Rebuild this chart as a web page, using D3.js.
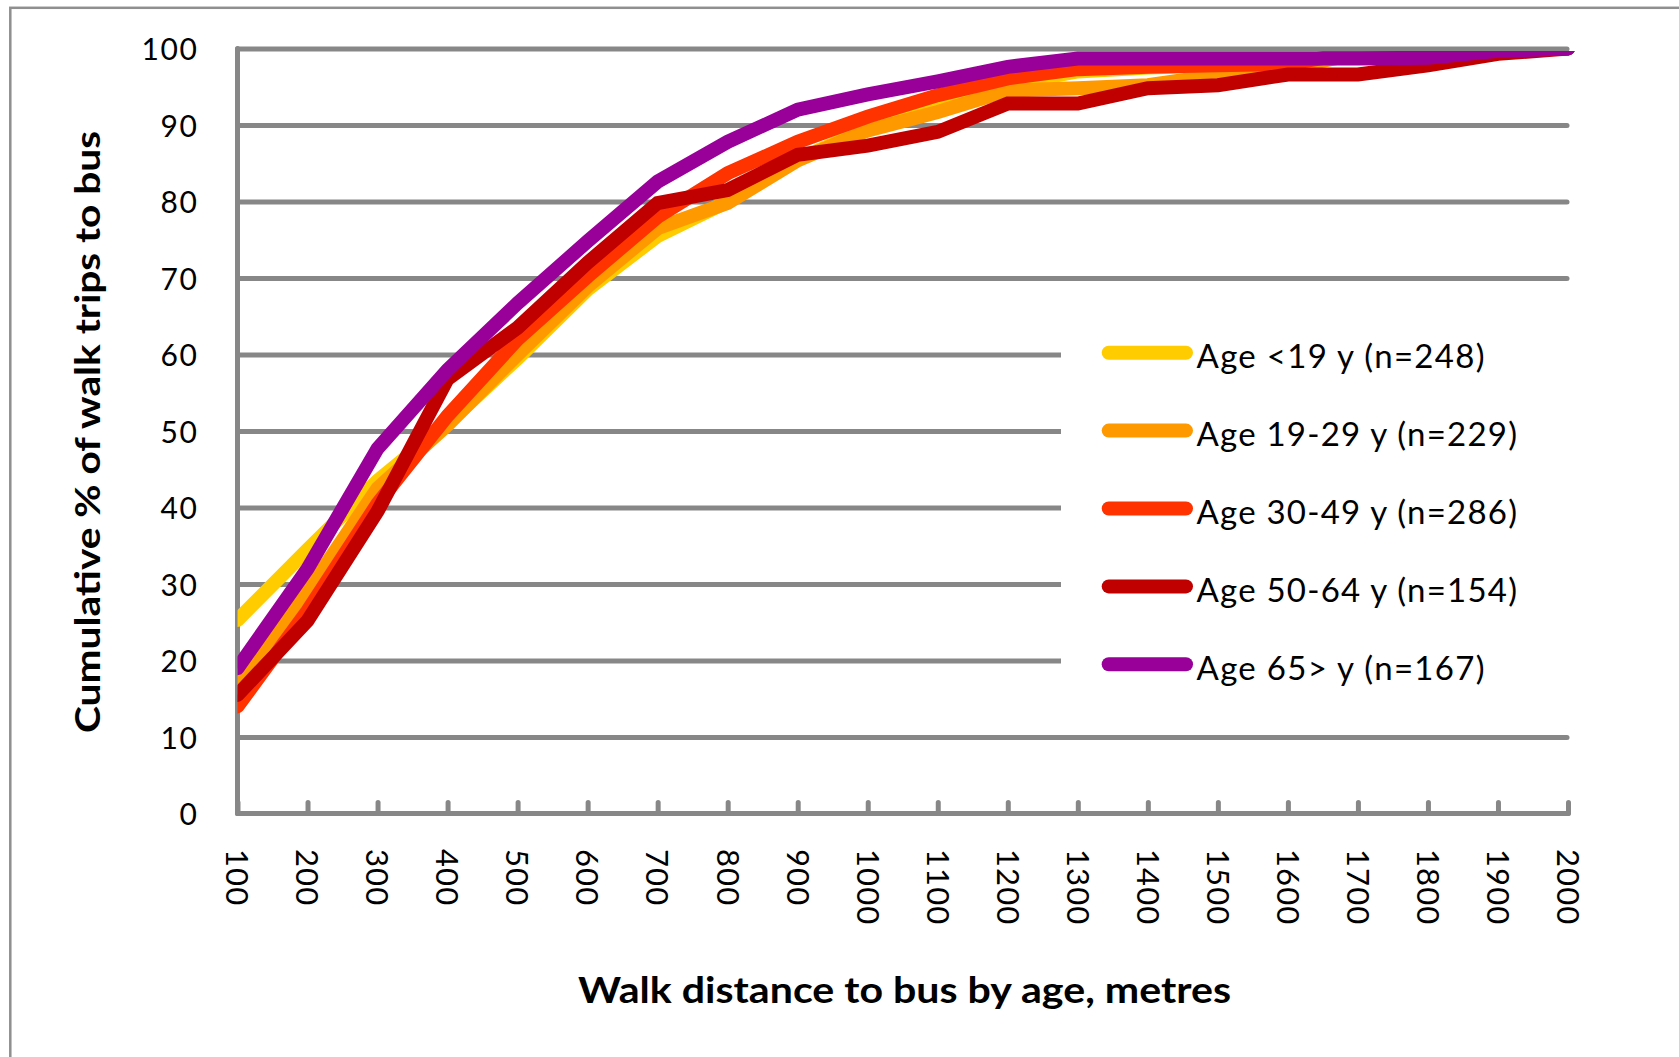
<!DOCTYPE html>
<html>
<head>
<meta charset="utf-8">
<script src="https://cdn.jsdelivr.net/npm/d3@7"></script>
<style>
  html, body { margin: 0; padding: 0; background: #fff; }
  svg { display: block; }
  text { font-family: Lato, "Open Sans", sans-serif; fill: #000; }
</style>
</head>
<body>
<svg id="chart" width="1679" height="1057"></svg>
<script>
// ---- data ----
const categories = [100, 200, 300, 400, 500, 600, 700, 800, 900, 1000,
                    1100, 1200, 1300, 1400, 1500, 1600, 1700, 1800, 1900, 2000];
const yTicks = [0, 10, 20, 30, 40, 50, 60, 70, 80, 90, 100];
const seriesNames = ["Age <19 y (n=248)", "Age 19-29 y (n=229)", "Age 30-49 y (n=286)",
                     "Age 50-64 y (n=154)", "Age 65> y (n=167)"];
const seriesColors = ["#FFCC00", "#FF9900", "#FF3300", "#C00000", "#990099"];
const ageUnder19 = [25.3, 34.5, 43.5, 51, 59.5, 68.5, 75.5, 80, 85.5, 89.5,
                    92.3, 95.3, 97, 97.5, 97.8, 99, 99.3, 99.5, 99.8, 100];
const age19to29 = [17.5, 29, 42.5, 50.8, 60, 68.9, 76.5, 79.8, 85.4, 89.3,
                   91.7, 94.5, 94.8, 95.2, 96.5, 97.5, 99.3, 99.5, 99.8, 100];
const age30to49 = [14, 26.5, 40.5, 52, 62, 70.2, 78, 83.7, 87.8, 91.1,
                   93.9, 96.1, 97.3, 97.6, 97.8, 98, 99.5, 99.6, 99.8, 100];
const age50to64 = [15.5, 25.2, 39.5, 56.8, 63.5, 72, 79.8, 81.5, 86.1, 87.3,
                   89.1, 92.8, 92.8, 94.8, 95.2, 96.6, 96.6, 97.8, 99.3, 100];
const age65plus = [19, 32, 47.7, 58, 66.7, 74.8, 82.6, 87.8, 92, 94,
                   95.7, 97.6, 98.7, 98.7, 98.7, 98.7, 98.7, 98.8, 99.7, 100];
const seriesValues = [ageUnder19, age19to29, age30to49, age50to64, age65plus];
const xTitle = "Walk distance to bus by age, metres";
const yTitle = "Cumulative % of walk trips to bus";

// ---- layout ----
const svg = d3.select("#chart");
const plotL = 237.5, plotR = 1568, plotT = 48.5, plotB = 813.5;
const axisColor = "#878787";

const x = d3.scalePoint().domain(categories).range([plotL, plotR]);
const y = d3.scaleLinear().domain([0, 100]).range([plotB, plotT]);

// outer chart border
svg.append("rect")
  .attr("x", 10.3).attr("y", 7.8).attr("width", 1720).attr("height", 1100)
  .attr("fill", "none").attr("stroke", "#8f8f8f").attr("stroke-width", 2.5);

// gridlines (via axis)
const grid = svg.append("g").attr("transform", `translate(${plotL},0)`)
  .call(d3.axisRight(y).tickValues(yTicks.filter(d => d > 0)).tickSize(plotR - plotL - 1).tickFormat(""));
grid.select(".domain").remove();
grid.selectAll(".tick line").attr("stroke", axisColor).attr("stroke-width", 5)
  .attr("stroke-linecap", "round");

// y tick labels
const yAx = svg.append("g").attr("transform", `translate(198.5,0)`)
  .call(d3.axisLeft(y).tickValues(yTicks).tickSize(0).tickPadding(0));
yAx.select(".domain").remove();
yAx.selectAll(".tick text")
  .attr("dy", null).attr("y", 11)
  .style("font-family", "Lato, sans-serif").style("font-size", "30px")
  .style("letter-spacing", "1.6px").attr("fill", "#000");

// legend background (covers gridlines behind legend)
svg.append("rect").attr("x", 1061).attr("y", 300).attr("width", 520).attr("height", 400)
  .attr("fill", "#fff");

// axes lines
svg.append("line").attr("x1", plotL).attr("x2", plotL).attr("y1", plotT).attr("y2", plotB)
  .attr("stroke", axisColor).attr("stroke-width", 5).attr("stroke-linecap", "round");

const xAx = svg.append("g").attr("transform", `translate(0,${plotB})`)
  .call(d3.axisBottom(x).tickSize(-11).tickFormat(""));
xAx.select(".domain").remove();
xAx.selectAll(".tick line").attr("stroke", axisColor).attr("stroke-width", 5)
  .attr("stroke-linecap", "round");
svg.append("line").attr("x1", plotL).attr("x2", plotR).attr("y1", plotB).attr("y2", plotB)
  .attr("stroke", axisColor).attr("stroke-width", 5).attr("stroke-linecap", "round");

// x tick labels (rotated)
svg.append("g").selectAll("text").data(categories).join("text")
  .attr("transform", d => `translate(${x(d)},849) rotate(90)`)
  .attr("dy", "0.36em")
  .attr("text-anchor", "start")
  .style("font-size", "31px").style("letter-spacing", "1.1px")
  .text(d => d);

// series lines
svg.append("clipPath").attr("id", "plotClip").append("rect")
  .attr("x", plotL).attr("y", 51).attr("width", 1420).attr("height", 780);
const line = d3.line().x((d, i) => x(categories[i])).y(d => y(d));
svg.append("g").attr("clip-path", "url(#plotClip)")
  .selectAll("path").data(seriesValues).join("path")
  .attr("d", d => line(d))
  .attr("fill", "none")
  .attr("stroke", (d, i) => seriesColors[i])
  .attr("stroke-width", 14)
  .attr("stroke-linejoin", "miter")
  .attr("stroke-linecap", "round");

// legend
const legendY0 = 352.7, legendStep = 77.9;
const legendWidths = [288, 320.5, 320.5, 320.5, 288];
const lg = svg.append("g");
seriesNames.forEach((name, i) => {
  const cy = legendY0 + i * legendStep;
  lg.append("line").attr("x1", 1108.7).attr("x2", 1186).attr("y1", cy).attr("y2", cy)
    .attr("stroke", seriesColors[i]).attr("stroke-width", 14).attr("stroke-linecap", "round");
  lg.append("text").attr("x", 1196.5).attr("y", cy + 15.6)
    .style("font-size", "33px")
    .attr("textLength", legendWidths[i]).attr("lengthAdjust", "spacing")
    .text(name);
});

// axis titles
svg.append("text")
  .attr("x", 904.5).attr("y", 1002.7).attr("text-anchor", "middle")
  .style("font-size", "36px").style("font-weight", "bold")
  .attr("textLength", 653).attr("lengthAdjust", "spacingAndGlyphs")
  .text(xTitle);

svg.append("text")
  .attr("transform", "translate(100,432) rotate(-90)").attr("text-anchor", "middle")
  .style("font-size", "35px").style("font-weight", "bold")
  .attr("textLength", 602).attr("lengthAdjust", "spacingAndGlyphs")
  .text(yTitle);
</script>
</body>
</html>
